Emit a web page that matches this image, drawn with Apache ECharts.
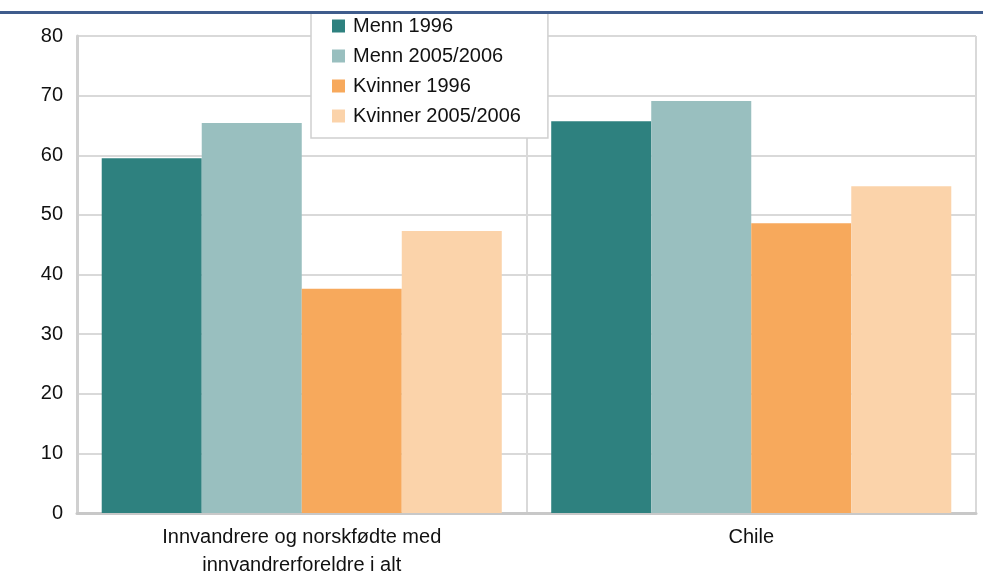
<!DOCTYPE html>
<html><head><meta charset="utf-8">
<script src="https://cdn.jsdelivr.net/npm/echarts@6/dist/echarts.min.js"></script>
<style>html,body{margin:0;padding:0;background:#fff}#c{width:983px;height:575px}</style>
</head><body><div id="c"></div>
<script>
const categories = ['Innvandrere og norskfødte med\ninnvandrerforeldre i alt', 'Chile'];
const seriesNames = ['Menn 1996', 'Menn 2005/2006', 'Kvinner 1996', 'Kvinner 2005/2006'];
const menn1996 = [59.5, 65.7];
const menn2005 = [65.4, 69.1];
const kvinner1996 = [37.6, 48.6];
const kvinner2005 = [47.3, 54.8];
const colors = ['#2e817f', '#99bfbf', '#f7a95c', '#fbd3aa'];
const values = [menn1996, menn2005, kvinner1996, kvinner2005];
const FONT = 'Liberation Sans, Arial, sans-serif';

const chart = echarts.init(document.getElementById('c'));
chart.setOption({
  animation: false,
  textStyle: { fontFamily: FONT },
  graphic: [{ type: 'rect', shape: { x: 0, y: 11, width: 983, height: 3 }, style: { fill: '#3f5c8c' }, z: 100, zlevel: 1 }],
  legend: {
    orient: 'vertical', left: 311, top: 12,
    backgroundColor: '#fff', borderColor: '#d0d0d0', borderWidth: 1.5,
    padding: [4, 27, 12, 21], itemGap: 10, itemWidth: 13, itemHeight: 13,
    icon: 'rect', textStyle: { fontSize: 20, color: '#111', fontFamily: FONT, padding: [0, 0, 0, 3] },
    data: seriesNames, z: 20
  },
  grid: { left: 77, right: 7, top: 36, bottom: 62, containLabel: false, outerBoundsMode: 'none' },
  xAxis: {
    type: 'category', data: categories,
    axisLine: { lineStyle: { color: '#c8c8c8', width: 3 } },
    axisTick: { show: false },
    splitLine: { show: true, lineStyle: { color: '#d9d9d9', width: 2 } },
    axisLabel: { fontSize: 20, color: '#111', lineHeight: 28, margin: 10, interval: 0 }
  },
  yAxis: {
    type: 'value', min: 0, max: 80, interval: 10,
    axisLine: { show: true, lineStyle: { color: '#d0d0d0', width: 3 } },
    axisTick: { show: false },
    splitLine: { lineStyle: { color: '#d9d9d9', width: 2 } },
    axisLabel: { fontSize: 20, color: '#111', margin: 14 }
  },
  series: seriesNames.map((n, i) => ({
    name: n, type: 'bar', data: values[i], barGap: '0%', barCategoryGap: '11%',
    itemStyle: { color: colors[i] }
  }))
});
</script></body></html>
